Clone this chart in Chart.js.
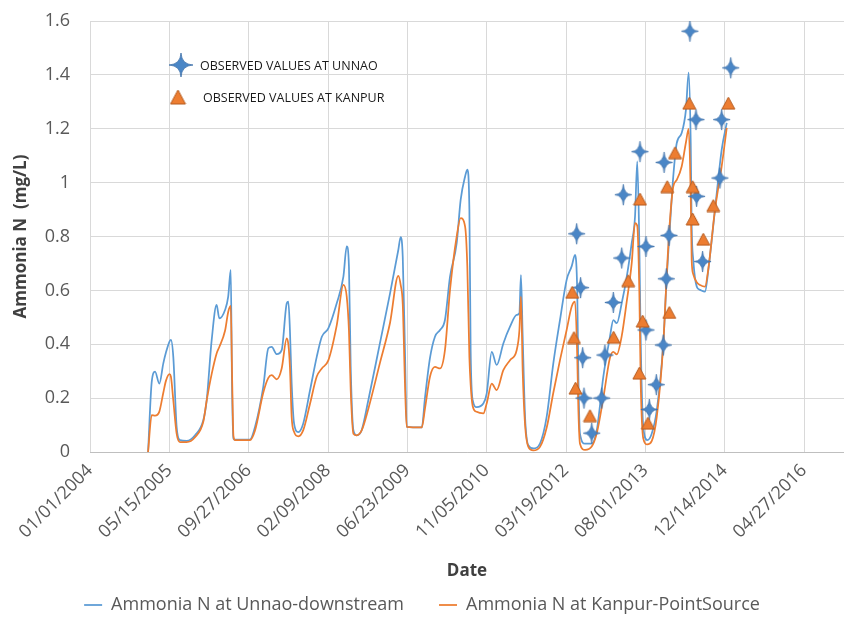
<!DOCTYPE html>
<html>
<head>
<meta charset="utf-8">
<title>Ammonia N – Unnao and Kanpur</title>
<script src="https://cdn.jsdelivr.net/npm/chart.js@4/dist/chart.umd.min.js"></script>
<style>
  html, body { margin: 0; padding: 0; background: #ffffff; }
  #wrap { width: 844px; height: 624px; }
</style>
</head>
<body>
<div id="wrap"><canvas id="chart" width="844" height="624"></canvas></div>
<script>
// Simulated daily series (sampled), mg/L
const lineDates = [
  '2005-01-01','2005-01-24','2005-02-14','2005-03-13','2005-04-07','2005-04-24','2005-05-16','2005-05-25','2005-06-09','2005-06-30',
  '2005-07-21','2005-09-01','2005-10-24','2005-12-15','2006-01-05','2006-02-06','2006-03-09','2006-03-26','2006-05-01','2006-05-21',
  '2006-06-06','2006-06-14','2006-06-23','2006-07-03','2006-10-05','2006-11-06','2006-12-28','2007-01-29','2007-02-19','2007-03-23',
  '2007-04-23','2007-05-25','2007-06-04','2007-06-14','2007-06-25','2007-07-10','2007-08-06','2007-09-06','2007-10-19','2007-11-30',
  '2008-01-01','2008-02-11','2008-04-04','2008-05-16','2008-06-06','2008-06-20','2008-07-01','2008-07-18','2008-08-08','2008-09-08',
  '2008-10-20','2009-01-01','2009-03-06','2009-04-27','2009-05-12','2009-05-25','2009-06-08','2009-06-19','2009-09-22','2009-10-12',
  '2009-11-13','2009-12-14','2010-01-15','2010-02-15','2010-03-19','2010-04-30','2010-05-25','2010-06-22','2010-07-06','2010-07-19',
  '2010-07-27','2010-08-09','2010-09-03','2010-10-15','2010-11-05','2010-12-07','2011-01-07','2011-02-18','2011-04-01','2011-05-13',
  '2011-05-30','2011-06-09','2011-06-20','2011-07-05','2011-07-25','2011-08-26','2011-10-07','2011-11-18','2011-12-30','2012-02-10',
  '2012-03-23','2012-04-24','2012-05-15','2012-05-29','2012-06-05','2012-06-15','2012-07-17','2012-08-28','2012-09-29','2012-11-09',
  '2012-12-21','2013-01-11','2013-02-02','2013-03-05','2013-04-06','2013-05-07','2013-05-28','2013-06-11','2013-06-24','2013-07-03',
  '2013-07-19','2013-08-13','2013-09-10','2013-10-12','2013-11-22','2013-12-14','2014-01-03','2014-01-24','2014-02-15','2014-03-18',
  '2014-04-14','2014-05-01','2014-05-14','2014-05-20','2014-05-30','2014-06-21','2014-07-12','2014-08-12','2014-09-02','2014-10-14',
  '2014-11-25','2014-12-27'
];
const unnaoSim = [
  0, 0.26, 0.298, 0.254, 0.329, 0.37, 0.41, 0.416, 0.353, 0.093,
  0.044, 0.041, 0.062, 0.118, 0.19, 0.416, 0.546, 0.496, 0.527, 0.577,
  0.676, 0.25, 0.05, 0.046, 0.046, 0.093, 0.242, 0.385, 0.39, 0.363,
  0.378, 0.552, 0.558, 0.453, 0.254, 0.106, 0.074, 0.106, 0.23, 0.353,
  0.428, 0.459, 0.552, 0.651, 0.763, 0.688, 0.316, 0.081, 0.062, 0.081,
  0.192, 0.403, 0.589, 0.75, 0.798, 0.725, 0.378, 0.093, 0.091, 0.2,
  0.35, 0.428, 0.453, 0.49, 0.651, 0.775, 0.936, 1.023, 1.048, 0.9,
  0.378, 0.192, 0.167, 0.18, 0.217, 0.372, 0.323, 0.403, 0.465, 0.509,
  0.515, 0.657, 0.428, 0.13, 0.025, 0.013, 0.031, 0.13, 0.329, 0.49,
  0.639, 0.69, 0.732, 0.589, 0.279, 0.068, 0.031, 0.031, 0.081, 0.279,
  0.428, 0.49, 0.478, 0.552, 0.651, 0.775, 0.874, 1.079, 0.775, 0.403,
  0.093, 0.044, 0.068, 0.155, 0.403, 0.651, 0.837, 1.023, 1.147, 1.184,
  1.271, 1.408, 1.147, 0.837, 0.713, 0.614, 0.602, 0.595, 0.676, 0.9,
  1.122, 1.222
];
const kanpurSim = [
  0, 0.137, 0.135, 0.15, 0.22, 0.265, 0.289, 0.28, 0.192, 0.068,
  0.037, 0.037, 0.055, 0.112, 0.19, 0.29, 0.366, 0.39, 0.45, 0.52,
  0.542, 0.30, 0.06, 0.044, 0.044, 0.08, 0.22, 0.275, 0.285, 0.27,
  0.31, 0.422, 0.40, 0.316, 0.13, 0.075, 0.058, 0.081, 0.18, 0.28,
  0.31, 0.34, 0.47, 0.62, 0.577, 0.45, 0.23, 0.068, 0.062, 0.08,
  0.16, 0.33, 0.48, 0.654, 0.62, 0.55, 0.254, 0.093, 0.091, 0.16,
  0.28, 0.316, 0.31, 0.378, 0.602, 0.80, 0.868, 0.837, 0.688, 0.353,
  0.25, 0.17, 0.149, 0.143, 0.18, 0.254, 0.23, 0.304, 0.341, 0.378,
  0.45, 0.577, 0.30, 0.10, 0.02, 0.006, 0.019, 0.09, 0.22, 0.341,
  0.453, 0.54, 0.558, 0.35, 0.155, 0.031, 0.008, 0.02, 0.07, 0.2,
  0.35, 0.372, 0.362, 0.43, 0.56, 0.70, 0.85, 0.84, 0.6, 0.25,
  0.05, 0.028, 0.04, 0.13, 0.40, 0.66, 0.86, 0.985, 1.01, 1.06,
  1.15, 1.2, 0.95, 0.713, 0.66, 0.63, 0.62, 0.614, 0.68, 0.9,
  1.06, 1.203
];

// Field observations, mg/L
const unnaoObsDates = [
  '2012-05-25','2012-06-19','2012-07-02','2012-07-10','2012-08-28','2012-10-30','2012-11-19','2013-01-11','2013-03-05','2013-03-15',
  '2013-06-28','2013-08-05','2013-08-05','2013-08-26','2013-10-09','2013-11-22','2013-11-27','2013-12-11','2013-12-28','2014-05-09',
  '2014-06-16','2014-06-20','2014-07-28','2014-11-14','2014-11-25','2015-01-21'
];
const unnaoObs = [
  0.81, 0.61, 0.35, 0.20, 0.07, 0.20, 0.36, 0.555, 0.72, 0.955,
  1.115, 0.763, 0.453, 0.158, 0.25, 0.397, 1.075, 0.643, 0.804, 1.562,
  1.234, 0.949, 0.707, 1.017, 1.234, 1.426
];
const kanpurObsDates = [
  '2012-04-27','2012-05-08','2012-05-18','2012-08-17','2013-01-13','2013-04-15','2013-06-24','2013-06-28','2013-07-15','2013-08-17',
  '2013-12-17','2013-12-30','2014-02-04','2014-05-05','2014-05-26','2014-05-26','2014-08-01','2014-10-03','2015-01-06'
];
const kanpurObs = [
  0.593, 0.425, 0.237, 0.135, 0.426, 0.636, 0.293, 0.939, 0.486, 0.107,
  0.985, 0.518, 1.111, 1.295, 0.985, 0.865, 0.79, 0.915, 1.295
];

// Axis ticks
const xTickDates = ['2004-01-01','2005-05-15','2006-09-27','2008-02-09','2009-06-23','2010-11-05','2012-03-19','2013-08-01','2014-12-14','2016-04-27'];
const xAxisStart = '2004-01-01';
const xAxisEnd = '2017-01-04';
const yTicks = [0, 0.2, 0.4, 0.6, 0.8, 1, 1.2, 1.4, 1.6];

const EPOCH = Date.UTC(2004, 0, 1);
const DAY = 86400000;
function dayOf(iso) {
  const [y, m, d] = iso.split('-').map(Number);
  return (Date.UTC(y, m - 1, d) - EPOCH) / DAY;
}
const pad2 = n => String(n).padStart(2, '0');
function fmtDate(v) {
  const d = new Date(EPOCH + Math.round(v) * DAY);
  return pad2(d.getUTCMonth() + 1) + '/' + pad2(d.getUTCDate()) + '/' + d.getUTCFullYear();
}
const pairs = (dates, vals) => dates.map((d, i) => ({ x: dayOf(d), y: vals[i] }));

// Marker sprites
function starSprite(w, h) {
  const c = document.createElement('canvas');
  c.width = w + 2; c.height = h + 2;
  const g = c.getContext('2d');
  const cx = c.width / 2, cy = c.height / 2, rx = w / 2, ry = h / 2, k = 0.05;
  g.beginPath();
  g.moveTo(cx, cy - ry);
  g.quadraticCurveTo(cx + rx * k, cy - ry * k, cx + rx, cy);
  g.quadraticCurveTo(cx + rx * k, cy + ry * k, cx, cy + ry);
  g.quadraticCurveTo(cx - rx * k, cy + ry * k, cx - rx, cy);
  g.quadraticCurveTo(cx - rx * k, cy - ry * k, cx, cy - ry);
  g.closePath();
  g.fillStyle = '#4A86C6';
  g.fill();
  g.lineWidth = 0.8;
  g.strokeStyle = '#3B6FA8';
  g.stroke();
  return c;
}
function triangleSprite(w, h) {
  const c = document.createElement('canvas');
  c.width = w + 2; c.height = h + 2;
  const g = c.getContext('2d');
  g.beginPath();
  g.moveTo(c.width / 2, 1);
  g.lineTo(w + 1, h + 1);
  g.lineTo(1, h + 1);
  g.closePath();
  g.fillStyle = '#ED7D31';
  g.fill();
  g.lineWidth = 1;
  g.strokeStyle = '#B45A1E';
  g.stroke();
  return c;
}
const starPoint = starSprite(17, 21);
const triPoint = triangleSprite(13, 12);
const starKey = starSprite(24, 24);
const triKey = triangleSprite(15, 14);

// Key for the observation markers, drawn inside the plot
const observedKey = {
  id: 'observedKey',
  afterDraw(chart) {
    const { ctx } = chart;
    const ds = chart.data.datasets;
    ctx.save();
    ctx.font = "12.5px 'Open Sans'";
    ctx.fillStyle = '#1a1a1a';
    ctx.textBaseline = 'middle';
    ctx.textAlign = 'left';
    ctx.drawImage(starKey, 181 - starKey.width / 2, 65 - starKey.height / 2);
    ctx.fillText(ds[2].label, 200, 66);
    ctx.drawImage(triKey, 178 - triKey.width / 2, 97 - triKey.height / 2);
    ctx.fillText(ds[3].label, 203, 98);
    ctx.restore();
  }
};

function build() {
  Chart.defaults.font.family = "'Open Sans', sans-serif";
  new Chart(document.getElementById('chart'), {
    type: 'line',
    data: {
      datasets: [
        {
          label: 'Ammonia N at Unnao-downstream',
          data: pairs(lineDates, unnaoSim),
          borderColor: '#5B9BD5',
          backgroundColor: '#5B9BD5',
          borderWidth: 1.75,
          pointRadius: 0,
          cubicInterpolationMode: 'monotone',
          order: 3
        },
        {
          label: 'Ammonia N at Kanpur-PointSource',
          data: pairs(lineDates, kanpurSim),
          borderColor: '#ED7D31',
          backgroundColor: '#ED7D31',
          borderWidth: 1.75,
          pointRadius: 0,
          cubicInterpolationMode: 'monotone',
          order: 2
        },
        {
          type: 'scatter',
          label: 'OBSERVED VALUES AT UNNAO',
          data: pairs(unnaoObsDates, unnaoObs),
          pointStyle: starPoint,
          pointRadius: 9,
          showLine: false,
          order: 1
        },
        {
          type: 'scatter',
          label: 'OBSERVED VALUES AT KANPUR',
          data: pairs(kanpurObsDates, kanpurObs),
          pointStyle: triPoint,
          pointRadius: 7,
          showLine: false,
          order: 0
        }
      ]
    },
    options: {
      responsive: false,
      animation: false,
      devicePixelRatio: 1,
      layout: { autoPadding: false, padding: { top: 21, left: 0, right: 0, bottom: 0 } },
      plugins: {
        tooltip: { enabled: false },
        legend: {
          position: 'bottom',
          labels: {
            filter: item => item.datasetIndex < 2,
            sort: (a, b) => a.datasetIndex - b.datasetIndex,
            usePointStyle: true,
            pointStyle: 'line',
            pointStyleWidth: 18,
            padding: 35,
            color: '#595959',
            font: { size: 18 }
          }
        }
      },
      scales: {
        x: {
          type: 'linear',
          min: dayOf(xAxisStart),
          max: dayOf(xAxisEnd),
          afterBuildTicks: s => { s.ticks = xTickDates.map(d => ({ value: dayOf(d) })); },
          afterFit: s => {
            s.height = s.chart.height - 452 - (s.chart.legend ? s.chart.legend.height : 0);
            s.paddingLeft = 0;
            s.paddingRight = 0;
          },
          grid: { color: '#d9d9d9', drawTicks: false },
          border: { color: '#bfbfbf' },
          ticks: {
            autoSkip: false, minRotation: 45, maxRotation: 45, padding: 8,
            color: '#595959', font: { size: 18 },
            callback: v => fmtDate(v)
          },
          title: {
            display: true, text: 'Date', color: '#404040',
            font: { size: 17, weight: 'bold' },
            padding: { top: 0, bottom: -20 }
          }
        },
        y: {
          min: 0,
          max: 1.6,
          afterBuildTicks: s => { s.ticks = yTicks.map(v => ({ value: v })); },
          afterFit: s => {
            s.width = 90;
            s.paddingTop = 0;
            s.paddingBottom = 0;
          },
          grid: { color: '#d9d9d9', drawTicks: false },
          border: { display: false },
          ticks: {
            padding: 20, color: '#595959', font: { size: 18 },
            callback: v => String(+Number(v).toFixed(1))
          },
          title: {
            display: true, text: 'Ammonia N  (mg/L)', color: '#404040',
            font: { size: 17, weight: 'bold' },
            padding: { top: 11, bottom: 0 }
          }
        }
      }
    },
    plugins: [observedKey]
  });
}

if (document.fonts && document.fonts.load) {
  Promise.all([
    document.fonts.load("18px 'Open Sans'"),
    document.fonts.load("bold 17px 'Open Sans'")
  ]).then(build, build);
} else {
  build();
}
</script>
</body>
</html>
